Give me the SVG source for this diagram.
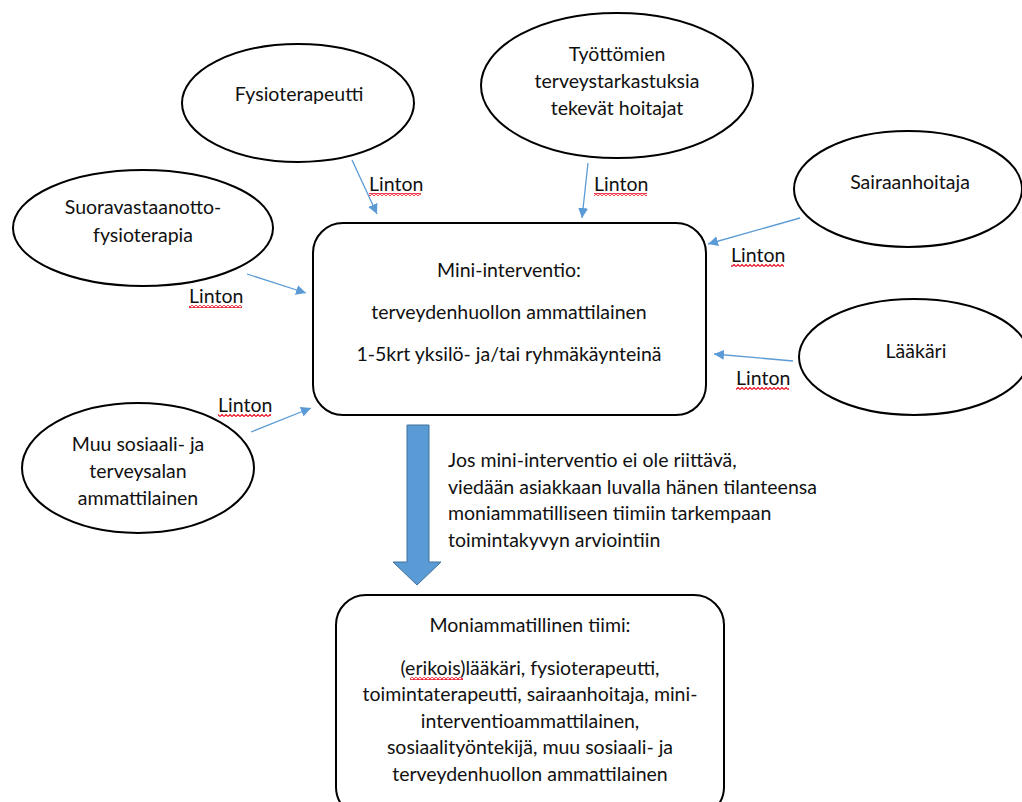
<svg xmlns="http://www.w3.org/2000/svg" width="1022" height="802" viewBox="0 0 1022 802">
<style>
.n{fill:#fff;stroke:#000;stroke-width:2}
.t{font-family:Lato,"Liberation Sans",sans-serif;font-size:19.5px;fill:#111;text-anchor:middle}
.tl{font-family:Lato,"Liberation Sans",sans-serif;font-size:19.5px;fill:#111}
.c{stroke:#5B9BD5;stroke-width:1.3;fill:none;marker-end:url(#ah)}
.sq{fill:url(#squig)}
</style>
<defs>
<marker id="ah" viewBox="0 0 10 10" refX="10" refY="5" markerWidth="10" markerHeight="10" markerUnits="userSpaceOnUse" orient="auto">
<path d="M0,0 L10,5 L0,10 z" fill="#5B9BD5"/>
</marker>
<pattern id="squig" width="4" height="3" patternUnits="userSpaceOnUse">
<polyline points="0,2.5 2,0.5 4,2.5" fill="none" stroke="#E81123" stroke-width="1.2"/>
</pattern>
</defs>
<rect width="1022" height="802" fill="#fff"/>

<g id="connectors">
<line class="c" x1="352" y1="160" x2="377" y2="214"/>
<line class="c" x1="247" y1="274" x2="306" y2="293"/>
<line class="c" x1="588" y1="163" x2="582" y2="218"/>
<line class="c" x1="800" y1="218" x2="708" y2="244"/>
<line class="c" x1="793" y1="361" x2="714" y2="354"/>
<line class="c" x1="251" y1="432" x2="311" y2="408"/>
<path d="M407,425 L429,425 L429,562 L441,562 L417,585 L393,562 L407,562 Z" fill="#5B9BD5" stroke="#41719C" stroke-width="1"/>
</g>

<g id="labels">
<text class="tl" x="369" y="191">Linton</text><rect class="sq" x="369" y="193" width="52" height="3"/>
<text class="tl" x="189" y="303">Linton</text><rect class="sq" x="189" y="305" width="53" height="3"/>
<text class="tl" x="594" y="191">Linton</text><rect class="sq" x="594" y="193" width="53" height="3"/>
<text class="tl" x="731" y="262">Linton</text><rect class="sq" x="731" y="264" width="53" height="3"/>
<text class="tl" x="736" y="385">Linton</text><rect class="sq" x="736" y="387" width="53" height="3"/>
<text class="tl" x="218" y="412">Linton</text><rect class="sq" x="218" y="414" width="53" height="3"/>
<text class="tl" x="448" y="467">Jos mini-interventio ei ole riittävä,</text>
<text class="tl" x="448" y="494">viedään asiakkaan luvalla hänen tilanteensa</text>
<text class="tl" x="448" y="520">moniammatilliseen tiimiin tarkempaan</text>
<text class="tl" x="448" y="547">toimintakyvyn arviointiin</text>
</g>

<g id="fysioterapeutti">
<ellipse class="n" cx="298" cy="103" rx="116" ry="59"/>
<text class="t" x="299" y="101">Fysioterapeutti</text>
</g>
<g id="suoravastaanotto">
<ellipse class="n" cx="143" cy="228" rx="130" ry="58"/>
<text class="t" x="143" y="214">Suoravastaanotto-</text>
<text class="t" x="143" y="242">fysioterapia</text>
</g>
<g id="tyottomien">
<ellipse class="n" cx="617" cy="85.5" rx="136" ry="72.5"/>
<text class="t" x="617" y="61">Työttömien</text>
<text class="t" x="617" y="88">terveystarkastuksia</text>
<text class="t" x="617" y="115">tekevät hoitajat</text>
</g>
<g id="sairaanhoitaja">
<ellipse class="n" cx="908" cy="189" rx="114" ry="58"/>
<text class="t" x="910" y="189">Sairaanhoitaja</text>
</g>
<g id="laakari">
<ellipse class="n" cx="914" cy="357" rx="115" ry="58"/>
<text class="t" x="916" y="358">Lääkäri</text>
</g>
<g id="muu">
<ellipse class="n" cx="138" cy="468" rx="116" ry="65"/>
<text class="t" x="138" y="451">Muu sosiaali- ja</text>
<text class="t" x="138" y="478">terveysalan</text>
<text class="t" x="138" y="505">ammattilainen</text>
</g>
<g id="mini-interventio">
<rect class="n" x="313" y="223" width="393" height="192" rx="30" ry="30"/>
<text class="t" x="509" y="277">Mini-interventio:</text>
<text class="t" x="509" y="319">terveydenhuollon ammattilainen</text>
<text class="t" x="509" y="361">1-5krt yksilö- ja/tai ryhmäkäynteinä</text>
</g>
<g id="moniammatillinen">
<rect class="n" x="336" y="595" width="388" height="222" rx="30" ry="30"/>
<text class="t" x="530" y="632">Moniammatillinen tiimi:</text>
<text class="t" x="530" y="675">(erikois)lääkäri, fysioterapeutti,</text>
<rect class="sq" x="410" y="677" width="53" height="3"/>
<text class="t" x="530" y="701">toimintaterapeutti, sairaanhoitaja, mini-</text>
<text class="t" x="530" y="728">interventioammattilainen,</text>
<text class="t" x="530" y="754">sosiaalityöntekijä, muu sosiaali- ja</text>
<text class="t" x="530" y="781">terveydenhuollon ammattilainen</text>
</g>
</svg>
